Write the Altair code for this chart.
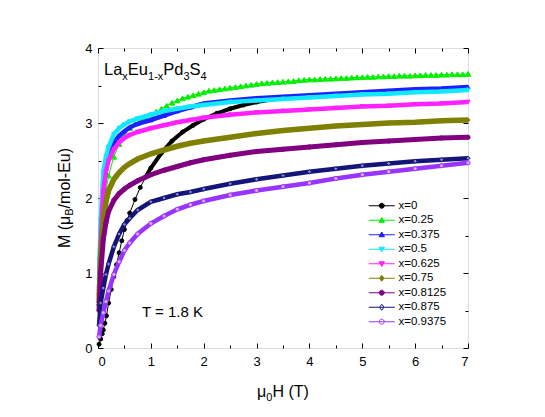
import altair as alt
import pandas as pd

FONT = "Liberation Sans"

SERIES = ["x=0", "x=0.25", "x=0.375", "x=0.5", "x=0.625", "x=0.75", "x=0.8125", "x=0.875", "x=0.9375"]
STROKES = ["#000000", "#00ee00", "#1f1fff", "#10e8ff", "#ff22ff", "#808000", "#800080", "#14147a", "#9933ff"]
LEG_FILLS = ["#000000", "#00ee00", "#1f1fff", "#10e8ff", "#ff22ff", "#808000", "#800080", "#ffffff", "#ffffff"]
DATA_FILLS = ["#000000", "#00ee00", "#1f1fff", "#10e8ff", "#ff22ff", "#808000", "#800080", "#8c8cc8", "#d4acff"]
SHAPES = ["circle", "triangle-up", "triangle-up", "triangle-down", "triangle-down", "diamond", "circle", "diamond", "circle"]

# x = 0 (black circles)
H_X0 = [0.02, 0.05, 0.08, 0.1, 0.13, 0.16, 0.2, 0.25, 0.3, 0.35, 0.4, 0.45, 0.5, 0.55, 0.6, 0.7, 0.8, 0.9,
        1.0, 1.2, 1.4, 1.6, 1.8, 2.0, 2.25, 2.5, 2.75, 3.0, 3.25, 3.5, 3.7]
M_X0 = [0.05, 0.12, 0.19, 0.24, 0.33, 0.43, 0.6, 0.78, 0.95, 1.11, 1.27, 1.43, 1.58, 1.7, 1.8, 1.98, 2.14, 2.28,
        2.4, 2.6, 2.76, 2.88, 2.97, 3.05, 3.13, 3.19, 3.24, 3.28, 3.31, 3.33, 3.35]

# x = 0.25 (green triangles)
H_X25 = [0.02, 0.05, 0.1, 0.15, 0.2, 0.3, 0.4, 0.5, 0.6, 0.7, 0.8, 0.9,
         1.0, 1.1, 1.2, 1.3, 1.4, 1.5, 1.6, 1.7, 1.8, 1.9, 2.0, 2.1, 2.2, 2.3, 2.4, 2.5, 2.6, 2.7, 2.8, 2.9,
         3.0, 3.1, 3.2, 3.3, 3.4, 3.5, 3.6, 3.7, 3.8, 3.9, 4.0, 4.1, 4.2, 4.3, 4.4, 4.5, 4.6, 4.7, 4.8, 4.9,
         5.0, 5.1, 5.2, 5.3, 5.4, 5.5, 5.6, 5.7, 5.8, 5.9, 6.0, 6.1, 6.2, 6.3, 6.4, 6.5, 6.6, 6.7, 6.8, 6.9, 7.0]
M_X25 = [0.6, 1.2, 1.75, 2.1, 2.3, 2.55, 2.72, 2.84, 2.93, 2.99, 3.03, 3.07,
         3.11, 3.15, 3.19, 3.23, 3.27, 3.30, 3.33, 3.35, 3.37, 3.39, 3.41, 3.43, 3.44, 3.45, 3.46, 3.47, 3.48, 3.49, 3.50, 3.51,
         3.52, 3.53, 3.535, 3.54, 3.545, 3.55, 3.555, 3.56, 3.57, 3.575, 3.58, 3.58, 3.585, 3.59, 3.59, 3.595, 3.60, 3.60, 3.605, 3.61,
         3.61, 3.615, 3.615, 3.62, 3.62, 3.625, 3.625, 3.63, 3.63, 3.63, 3.635, 3.635, 3.64, 3.64, 3.64, 3.645, 3.645, 3.65, 3.65, 3.65, 3.655]

# shared field grid for the densely measured samples
H_GRID = [0.02, 0.05, 0.1, 0.15, 0.2, 0.3, 0.4, 0.5, 0.6, 0.75, 1.0, 1.25, 1.5, 1.75, 2.0,
          2.5, 3.0, 3.5, 4.0, 4.5, 5.0, 5.5, 6.0, 6.5, 7.0]
M_X375 = [0.8, 1.5, 2.1, 2.4, 2.55, 2.74, 2.83, 2.89, 2.94, 2.99, 3.04, 3.1, 3.16, 3.21, 3.26,
          3.3, 3.33, 3.35, 3.37, 3.39, 3.41, 3.43, 3.45, 3.46, 3.48]
M_X5 = [0.9, 1.7, 2.35, 2.55, 2.68, 2.85, 2.93, 2.98, 3.02, 3.06, 3.11, 3.16, 3.19, 3.22, 3.24,
        3.28, 3.3, 3.32, 3.34, 3.36, 3.38, 3.39, 3.41, 3.42, 3.44]
M_X625 = [0.7, 1.4, 2.1, 2.35, 2.5, 2.65, 2.74, 2.8, 2.84, 2.88, 2.93, 2.97, 3.01, 3.04, 3.07,
          3.11, 3.14, 3.16, 3.18, 3.2, 3.22, 3.23, 3.25, 3.26, 3.28]
M_X75 = [0.6, 1.2, 1.7, 1.95, 2.1, 2.25, 2.34, 2.41, 2.46, 2.52, 2.59, 2.64, 2.69, 2.73, 2.76,
         2.81, 2.86, 2.9, 2.93, 2.96, 2.98, 3.0, 3.01, 3.03, 3.04]
M_X8125 = [0.5, 1.0, 1.45, 1.67, 1.82, 1.97, 2.06, 2.12, 2.17, 2.23, 2.31, 2.37, 2.42, 2.47, 2.51,
           2.57, 2.62, 2.65, 2.68, 2.71, 2.74, 2.76, 2.78, 2.8, 2.81]
M_X875 = [0.3, 0.6, 0.8, 0.98, 1.12, 1.35, 1.52, 1.65, 1.73, 1.84, 1.95, 2.0, 2.05, 2.08, 2.12,
          2.19, 2.25, 2.3, 2.35, 2.39, 2.43, 2.46, 2.49, 2.51, 2.53]
M_X9375 = [0.15, 0.3, 0.47, 0.62, 0.76, 0.98, 1.15, 1.3, 1.4, 1.52, 1.66, 1.76, 1.85, 1.91, 1.96,
           2.04, 2.1, 2.15, 2.2, 2.26, 2.31, 2.35, 2.39, 2.43, 2.47]

X_TICKS = [0, 1, 2, 3, 4, 5, 6, 7]
X_MINOR = [0.5, 1.5, 2.5, 3.5, 4.5, 5.5, 6.5]
Y_TICKS = [0, 1, 2, 3, 4]
Y_MINOR = [0.5, 1.5, 2.5, 3.5]

series_data = {
    "x=0": (H_X0, M_X0),
    "x=0.25": (H_X25, M_X25),
    "x=0.375": (H_GRID, M_X375),
    "x=0.5": (H_GRID, M_X5),
    "x=0.625": (H_GRID, M_X625),
    "x=0.75": (H_GRID, M_X75),
    "x=0.8125": (H_GRID, M_X8125),
    "x=0.875": (H_GRID, M_X875),
    "x=0.9375": (H_GRID, M_X9375),
}
rows = []
for s in SERIES:
    hs, ms = series_data[s]
    for h, m in zip(hs, ms):
        rows.append({"series": s, "H": h, "M": m})
df = pd.DataFrame(rows)

W, HGT = 370, 300
xs = alt.Scale(domain=[0, 7], nice=False, zero=False)
ys = alt.Scale(domain=[0, 4], nice=False, zero=False)

# legend symbols: a line with the marker on it (unit = sqrt(symbolSize)/2 px)
LINE = "M-2.6,0H2.6"
CIRC = "M-0.5,0A0.5,0.5,0,1,1,0.5,0A0.5,0.5,0,1,1,-0.5,0Z"
TUP = "M0,-0.55L0.55,0.4L-0.55,0.4Z"
TDN = "M0,0.55L0.55,-0.4L-0.55,-0.4Z"
DIA = "M0,-0.6L0.45,0L0,0.6L-0.45,0Z"
LEG_PATHS = [LINE + CIRC, LINE + TUP, LINE + TUP, LINE + TDN, LINE + TDN, LINE + DIA, LINE + CIRC, LINE + DIA, LINE + CIRC]

legend = alt.Legend(title=None, orient="none", legendX=278, legendY=152, padding=0,
                    labelFont=FONT, labelFontSize=11.5, labelColor="black", labelOffset=11,
                    symbolSize=100, symbolStrokeWidth=1, rowPadding=1.5, symbolOpacity=1)

NOAX = None
base = alt.Chart(df)
layers = []
WIDTHS = {"x=0": 1, "x=0.25": 1, "x=0.75": 5.5, "x=0.8125": 5}
PSIZE = {"x=0": 16, "x=0.25": 30}
for i, s in enumerate(SERIES):
    sub = base.transform_filter(alt.datum.series == s)
    enc = dict(x=alt.X("H:Q", scale=xs, axis=NOAX), y=alt.Y("M:Q", scale=ys, axis=NOAX))
    layers.append(sub.mark_line(stroke=STROKES[i], strokeWidth=WIDTHS.get(s, 4.5)).encode(order="H:Q", **enc))
    if s == "x=0":
        layers.append(sub.transform_filter(alt.datum.H >= 0.9).mark_line(stroke=STROKES[i], strokeWidth=4).encode(
            order="H:Q", **enc))
    layers.append(sub.mark_point(filled=True, opacity=1, strokeWidth=1, size=PSIZE.get(s, 18),
                                 shape=SHAPES[i], fill=DATA_FILLS[i], stroke=STROKES[i]).encode(**enc))

# legend-only layer: no rows survive the filter, entries come from the explicit domains
layers.append(base.transform_filter("datum.H > 100").mark_point(filled=True, opacity=1).encode(
    x=alt.X("H:Q", scale=xs, axis=NOAX), y=alt.Y("M:Q", scale=ys, axis=NOAX),
    shape=alt.Shape("series:N", scale=alt.Scale(domain=SERIES, range=LEG_PATHS), legend=legend),
    fill=alt.Fill("series:N", scale=alt.Scale(domain=SERIES, range=LEG_FILLS), legend=legend),
    stroke=alt.Stroke("series:N", scale=alt.Scale(domain=SERIES, range=STROKES), legend=legend)))

# axes (labels outside, ticks pointing inward on all four sides)
carrier = alt.Chart(pd.DataFrame({"H": [0.0], "M": [0.0]}))
common = dict(grid=False, domain=False, title=None, tickColor="black", tickWidth=1)
def ax_layer(xa, ya):
    return carrier.mark_point(opacity=0).encode(x=alt.X("H:Q", scale=xs, axis=xa), y=alt.Y("M:Q", scale=ys, axis=ya))

lab = dict(labelFont=FONT, labelFontSize=13, labelColor="black", grid=False, domain=False, title=None)
layers.append(ax_layer(alt.Axis(orient="bottom", values=X_TICKS, ticks=False, labelPadding=7, **lab),
                       alt.Axis(orient="left", values=Y_TICKS, ticks=False, labelPadding=6, **lab)))
layers.append(ax_layer(alt.Axis(orient="top", offset=-HGT, values=X_TICKS, tickSize=5, labels=False, **common),
                       alt.Axis(orient="right", offset=-W, values=Y_TICKS, tickSize=5, labels=False, **common)))
layers.append(ax_layer(alt.Axis(orient="top", offset=-HGT, values=X_MINOR, tickSize=3, labels=False, **common),
                       alt.Axis(orient="right", offset=-W, values=Y_MINOR, tickSize=3, labels=False, **common)))
layers.append(ax_layer(alt.Axis(orient="bottom", offset=-HGT, values=X_TICKS, tickSize=5, labels=False, **common),
                       alt.Axis(orient="left", offset=-W, values=Y_TICKS, tickSize=5, labels=False, **common)))
layers.append(ax_layer(alt.Axis(orient="bottom", offset=-HGT, values=X_MINOR, tickSize=3, labels=False, **common),
                       alt.Axis(orient="left", offset=-W, values=Y_MINOR, tickSize=3, labels=False, **common)))

# text annotations with sub-scripts (Arial / Liberation Sans advance widths)
ADV = {"L": 556, "a": 556, "x": 500, "E": 667, "u": 556, "1": 556, "-": 333, "P": 667, "d": 556, "3": 556,
       "S": 667, "4": 556, "M": 833, " ": 278, "(": 333, "μ": 576, "B": 667, "/": 278, "m": 833, "o": 556,
       "l": 222, ")": 333, "H": 722, "T": 611, "0": 556, "=": 584, ".": 278, "8": 556, "K": 667}
def tw(s, size):
    return sum(ADV.get(c, 556) for c in s) * size / 1000.0

def txt(s, x, y, size, angle=0):
    return alt.Chart(alt.Data(values=[{}])).mark_text(
        text=s, fontSize=size, font=FONT, align="left", baseline="alphabetic", angle=angle, color="black"
    ).encode(x=alt.value(x), y=alt.value(y))

BIG, SUB = 16.5, 11
pieces = [("La", 0), ("x", 1), ("Eu", 0), ("1-x", 1), ("Pd", 0), ("3", 1), ("S", 0), ("4", 1)]
cx = 6
for s, issub in pieces:
    size = SUB if issub else BIG
    layers.append(txt(s, cx, 27 + (4.5 if issub else 0), size))
    cx += tw(s, size)

# x title: mu_0 H (T)
TS, TSUB = 16, 11
xt = [("μ", 0), ("0", 1), ("H (T)", 0)]
total = sum(tw(s, TSUB if b else TS) for s, b in xt)
cx = W / 2 - total / 2
for s, b in xt:
    size = TSUB if b else TS
    layers.append(txt(s, cx, HGT + 49 + (4 if b else 0), size))
    cx += tw(s, size)

# y title: M (mu_B/mol-Eu), rotated
yt = [("M (μ", 0), ("B", 1), ("/mol-Eu)", 0)]
total = sum(tw(s, TSUB if b else TS) for s, b in yt)
cy = HGT / 2 + total / 2
for s, b in yt:
    size = TSUB if b else TS
    layers.append(txt(s, -28.5 + (3.5 if b else 0), cy, size, angle=270))
    cy -= tw(s, size)

layers.append(txt("T = 1.8 K", 44, 268.7, 15))

chart = alt.layer(*layers).resolve_axis(x="independent", y="independent").properties(
    width=W, height=HGT,
    autosize=alt.AutoSizeParams(type="none"),
    padding={"left": 90, "top": 40, "right": 60, "bottom": 60},
).configure_view(stroke="black", strokeWidth=1.2).configure(background="white")

chart.save("out.html", embed_options={"renderer": "svg", "actions": False})
